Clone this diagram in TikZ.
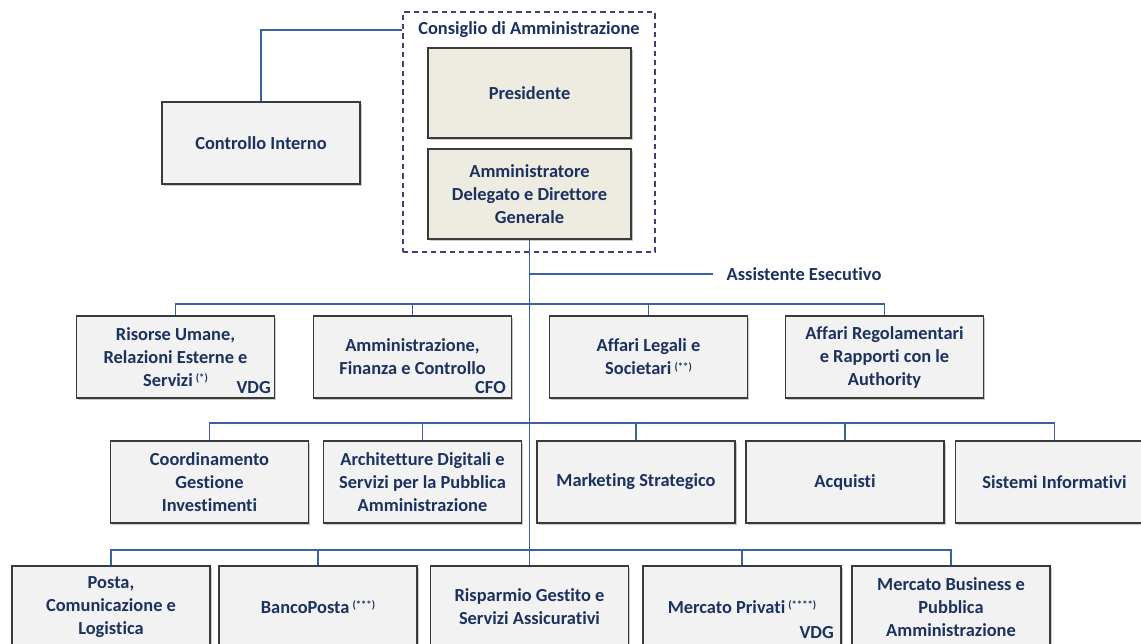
\documentclass[tikz,border=0pt]{standalone}
\usepackage{fontspec}
\setmainfont{Carlito}[Ligatures=NoCommon]
\usetikzlibrary{shadows}
\definecolor{txt}{HTML}{1B3160}
\definecolor{conn}{HTML}{3A62A0}
\definecolor{dashc}{HTML}{3F3F7A}
\definecolor{boxfill}{HTML}{F2F2F2}
\definecolor{beige}{HTML}{EEECE1}
\definecolor{bord}{HTML}{3A3A3A}
\begin{document}
\begin{tikzpicture}[x=0.75pt,y=-0.75pt,
 every node/.style={font=\fontsize{13.8}{17.25}\selectfont\bfseries, text=txt, align=center},
 unit/.style={draw=bord, line width=1.4pt, fill=boxfill, minimum width=148.5pt, minimum height=61.5pt, inner sep=2pt,
   drop shadow={shadow xshift=1.2pt, shadow yshift=-1.2pt, opacity=0.35, fill=black!60}},
 board/.style={unit, fill=beige, minimum width=152.25pt, minimum height=67.5pt},
 cdabox/.style={draw=dashc, line width=1.1pt, dash pattern=on 4pt off 3pt, minimum width=189pt, minimum height=180pt},
 link/.style={draw=conn, line width=1.1pt},
 tag/.style={anchor=east, inner sep=0pt},
 sup/.style={},
]
\useasboundingbox (0,0) rectangle (1141,643);
\clip (0,0) rectangle (1141,643);
\fill[white] (0,0) rectangle (1141,643);

% board
\node[cdabox] (cda) at (529,132) {};
\node (title) at (529,30) {Consiglio di Amministrazione};
\node[board] (pres) at (529.5,93) {Presidente};
\node[board] (ad) at (529.5,194) {Amministratore\\Delegato e Direttore\\Generale};
\node[unit] (controllo) at (261,143) {Controllo Interno};

% row 1
\node[unit] (risorse) at (175.5,357) {Risorse Umane,\\Relazioni Esterne e\\Servizi\,\raisebox{0.5ex}{\fontsize{8}{8}\selectfont(*)}};
\node[unit] (ammin) at (412.5,357) {Amministrazione,\\Finanza e Controllo};
\node[unit] (legali) at (648.5,357) {Affari Legali e\\Societari\,\raisebox{0.5ex}{\fontsize{8}{8}\selectfont(**)}};
\node[unit] (regol) at (884.5,357) {Affari Regolamentari\\e Rapporti con le\\Authority};
\node[tag] (vdg1) at (271,388) {VDG};
\node[tag] (cfo) at (506,388) {CFO};

% row 2
\node[unit] (coord) at (209.5,482) {Coordinamento\\Gestione\\Investimenti};
\node[unit] (archi) at (422.5,482) {Architetture Digitali e\\Servizi per la Pubblica\\Amministrazione};
\node[unit] (mark) at (636,482) {Marketing Strategico};
\node[unit] (acq) at (845,482) {Acquisti};
\node[unit] (sist) at (1054.5,482) {Sistemi Informativi};

% row 3
\node[unit] (posta) at (111,607) {Posta,\\Comunicazione e\\Logistica};
\node[unit] (banco) at (318,607) {BancoPosta\,\raisebox{0.5ex}{\fontsize{8}{8}\selectfont(***)}};
\node[unit] (rispar) at (529.5,607) {Risparmio Gestito e\\Servizi Assicurativi};
\node[unit] (priv) at (742,607) {Mercato Privati\,\raisebox{0.5ex}{\fontsize{8}{8}\selectfont(****)}};
\node[unit] (busi) at (951,607) {Mercato Business e\\Pubblica\\Amministrazione};
\node[tag] (vdg2) at (834,633) {VDG};

% connectors
\draw[link] (controllo.north) |- (cda.west |- title.center);
\draw[link] (ad.south) -- (rispar.north);
\coordinate (asst) at (713,274);
\draw[link] (ad.south |- asst) -- (asst);
\node[anchor=west] (asstxt) at (722,274) {Assistente Esecutivo};

\draw[link] (risorse.north) -- ++(0,-11) -| (regol.north);
\draw[link] (ammin.north) -- ++(0,-11);
\draw[link] (legali.north) -- ++(0,-11);

\draw[link] (coord.north) -- ++(0,-17) -| (sist.north);
\draw[link] (archi.north) -- ++(0,-17);
\draw[link] (mark.north) -- ++(0,-17);
\draw[link] (acq.north) -- ++(0,-17);

\draw[link] (posta.north) -- ++(0,-15) -| (busi.north);
\draw[link] (banco.north) -- ++(0,-15);
\draw[link] (priv.north) -- ++(0,-15);
\end{tikzpicture}
\end{document}
